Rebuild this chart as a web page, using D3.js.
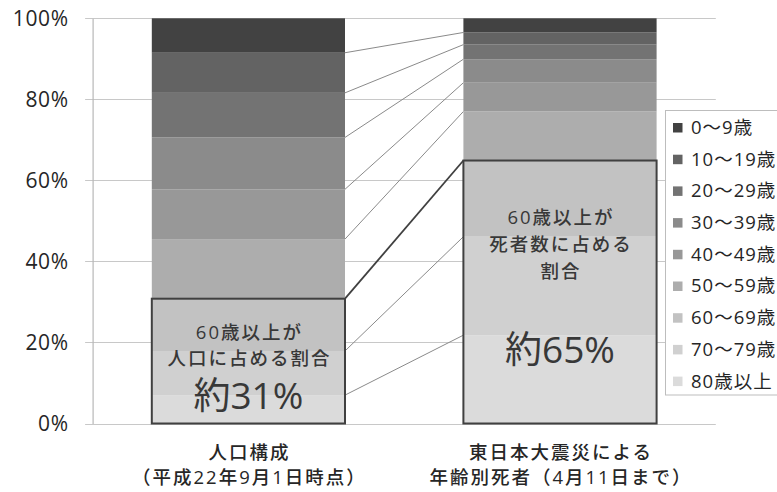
<!DOCTYPE html>
<html>
<head>
<meta charset="utf-8">
<script src="https://cdn.jsdelivr.net/npm/d3@7"></script>
<style>
  html, body { margin: 0; padding: 0; background: #fff; }
  svg { display: block; }
  text { font-family: "Open Sans", "Noto Sans CJK JP", sans-serif; }
</style>
</head>
<body>
<svg id="chart" width="777" height="492"></svg>
<script>
// Age composition: population (Sept 2010) vs. deaths in the Great East Japan Earthquake (to April 11)
const categories = ["人口構成", "東日本大震災による死者"];
const categoryLines = [
  ["人口構成", "（平成22年9月1日時点）"],
  ["東日本大震災による", "年齢別死者（4月11日まで）"]
];
const ageGroups = ["0～9歳", "10～19歳", "20～29歳", "30～39歳", "40～49歳",
                   "50～59歳", "60～69歳", "70～79歳", "80歳以上"];
const population = [8.5, 9.9, 11.0, 12.8, 12.3, 14.7, 12.9, 10.9, 7.0];
const deaths     = [3.5, 3.0, 3.6, 5.8, 7.1, 12.1, 18.8, 24.3, 21.8];
const yTicks = [0, 20, 40, 60, 80, 100];
const elderlyGroups = ["60～69歳", "70～79歳", "80歳以上"];
const boxCaptions = [
  ["60歳以上が", "人口に占める割合"],
  ["60歳以上が", "死者数に占める", "割合"]
];
const greys = ["#424242", "#636363", "#737373", "#8b8b8b", "#989898",
               "#adadad", "#c2c2c2", "#d0d0d0", "#dbdbdb"];

const svg = d3.select("#chart");
const margin = { left: 92.6, right: 777 - 715.8, top: 18.3, bottom: 492 - 423.5 };
const W = 777, H = 492;

const x = d3.scaleBand()
  .domain(categories)
  .range([margin.left, W - margin.right])
  .paddingInner(0.38)
  .paddingOuter(0.19);

const y = d3.scaleLinear()
  .domain([0, 100])
  .range([H - margin.bottom, margin.top]);

const color = d3.scaleOrdinal(ageGroups, greys);

// rows for stacking
const rows = categories.map((c, ci) => {
  const r = { category: c };
  ageGroups.forEach((g, gi) => { r[g] = (ci === 0 ? population : deaths)[gi]; });
  return r;
});

// 80+ at the bottom, 0-9 on top
const stackKeys = ageGroups.slice().reverse();
const series = d3.stack().keys(stackKeys)(rows);

// gridlines + tick marks
svg.append("g")
  .selectAll("line")
  .data(yTicks)
  .join("line")
  .attr("x1", margin.left - 7.5)
  .attr("x2", W - margin.right)
  .attr("y1", d => Math.round(y(d)) + 0.5)
  .attr("y2", d => Math.round(y(d)) + 0.5)
  .attr("stroke", "#c8c8c8")
  .attr("stroke-width", 1);

// y axis
const yAxis = d3.axisLeft(y)
  .tickValues(yTicks)
  .tickFormat(d => d + "%")
  .tickSize(0)
  .tickPadding(24);
const gy = svg.append("g")
  .attr("transform", `translate(${margin.left},0)`)
  .call(yAxis);
gy.select(".domain").attr("stroke", "#b8b8b8").attr("stroke-width", 1.2);
gy.selectAll("text")
  .attr("font-size", 21)
  .attr("letter-spacing", 0.6)
  .attr("fill", "#262626")
  .attr("dy", "0.35em");

// connector lines between the two bars at each stack boundary
const x0 = categories[0], x1 = categories[1];
const boundaryIdx = d3.range(series.length - 1);
const elderTopKey = elderlyGroups[0];
svg.append("g")
  .selectAll("line")
  .data(boundaryIdx)
  .join("line")
  .attr("x1", x(x0) + x.bandwidth())
  .attr("x2", x(x1))
  .attr("y1", i => y(series[i][0][1]))
  .attr("y2", i => y(series[i][1][1]))
  .attr("stroke", i => series[i].key === elderTopKey ? "#404040" : "#8a8a8a")
  .attr("stroke-width", i => series[i].key === elderTopKey ? 1.8 : 1);

// stacked bars
svg.append("g")
  .selectAll("g")
  .data(series)
  .join("g")
  .attr("fill", d => color(d.key))
  .selectAll("rect")
  .data(d => d)
  .join("rect")
  .attr("x", d => x(d.data.category))
  .attr("width", x.bandwidth())
  .attr("y", d => y(d[1]))
  .attr("height", d => y(d[0]) - y(d[1]));

// 60+ outline boxes
const elderShare = rows.map(r => d3.sum(elderlyGroups, g => r[g]));
const boxG = svg.append("g");
boxG.selectAll("rect")
  .data(categories)
  .join("rect")
  .attr("x", c => x(c))
  .attr("width", x.bandwidth())
  .attr("y", (c, i) => y(elderShare[i]))
  .attr("height", (c, i) => y(0) - y(elderShare[i]))
  .attr("fill", "none")
  .attr("stroke", "#404040")
  .attr("stroke-width", 2);

// captions inside the boxes
const captionLayout = [
  { lines: [34, 60], big: 97 },
  { lines: [57, 84, 111], big: 190 }
];
categories.forEach((c, i) => {
  const cx = x(c) + x.bandwidth() / 2;
  const top = y(elderShare[i]);
  boxCaptions[i].forEach((t, li) => {
    boxG.append("text")
      .attr("x", cx + 1)
      .attr("y", top + captionLayout[i].lines[li])
      .attr("dy", "0.35em")
      .attr("text-anchor", "middle")
      .attr("font-size", 18.5)
      .attr("font-weight", 500)
      .attr("letter-spacing", 2)
      .attr("fill", "#383838")
      .text(t);
  });
  boxG.append("text")
    .attr("x", cx)
    .attr("y", top + captionLayout[i].big)
    .attr("dy", "0.35em")
    .attr("text-anchor", "middle")
    .attr("font-size", 37)
    .attr("fill", "#383838")
    .text("約" + Math.round(elderShare[i]) + "%");
});

// category labels
categories.forEach((c, i) => {
  const cx = x(c) + x.bandwidth() / 2;
  categoryLines[i].forEach((t, li) => {
    svg.append("text")
      .attr("x", cx + 1)
      .attr("y", 459 + li * 25)
      .attr("text-anchor", "middle")
      .attr("font-size", 18.5)
      .attr("font-weight", 500)
      .attr("letter-spacing", 2)
      .attr("fill", "#262626")
      .text(t);
  });
});

// legend
const legend = svg.append("g");
legend.append("rect")
  .attr("x", 665.5)
  .attr("y", 110.5)
  .attr("width", 140)
  .attr("height", 284.5)
  .attr("fill", "#fff")
  .attr("stroke", "#bdbdbd")
  .attr("stroke-width", 1);
const items = legend.selectAll("g.item")
  .data(ageGroups)
  .join("g")
  .attr("class", "item")
  .attr("transform", (d, i) => `translate(673, ${127.5 + i * 31.7})`);
items.append("rect")
  .attr("x", 0)
  .attr("y", -4.5)
  .attr("width", 9.5)
  .attr("height", 9.5)
  .attr("fill", d => color(d));
items.append("text")
  .attr("x", 18)
  .attr("dy", "0.35em")
  .attr("font-size", 18.5)
  .attr("letter-spacing", 1)
  .attr("fill", "#262626")
  .text(d => d);
</script>
</body>
</html>
